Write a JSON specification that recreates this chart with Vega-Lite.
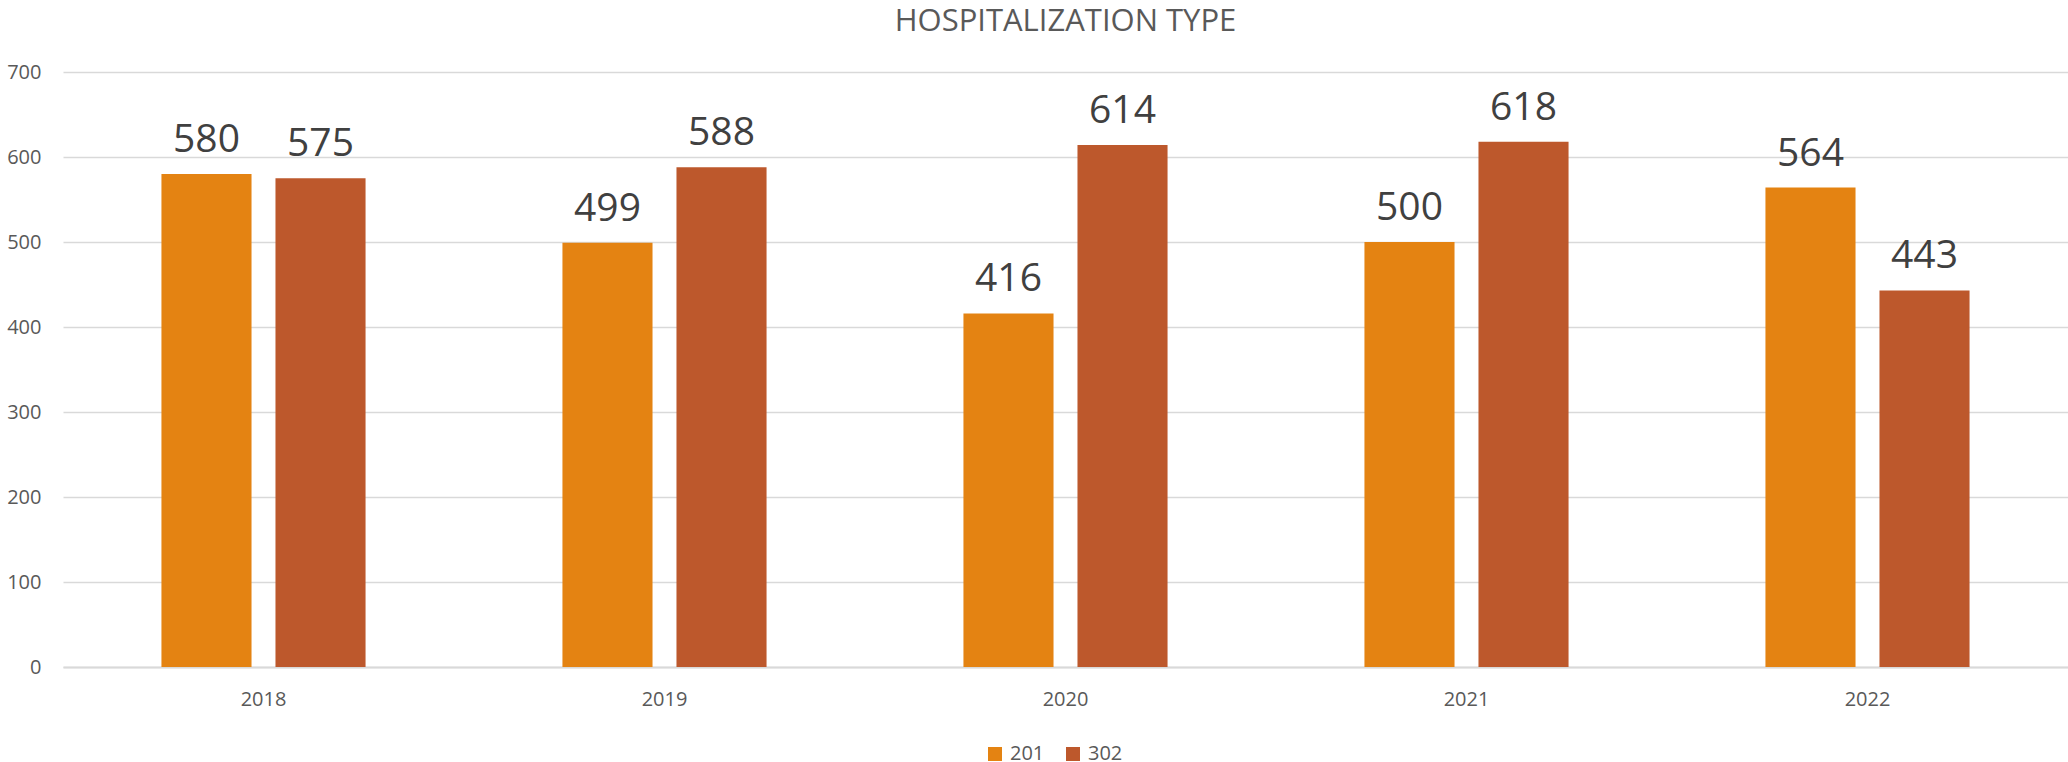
{
  "$schema": "https://vega.github.io/schema/vega-lite/v6.json",
  "width": 2005,
  "height": 595,
  "autosize": {"type": "none"},
  "padding": {"left": 63, "top": 72, "right": 0, "bottom": 95},
  "background": "white",
  "config": {
    "font": "Open Sans",
    "view": {"stroke": null},
    "axis": {"labelFont": "Open Sans", "labelColor": "#595959", "labelFontSize": 20}
  },
  "title": {
    "text": "HOSPITALIZATION TYPE",
    "fontSize": 31,
    "fontWeight": "normal",
    "color": "#595959",
    "anchor": "middle",
    "frame": "group",
    "baseline": "bottom",
    "offset": -7
  },
  "data": {
    "values": [
      {"year": "2018", "type": "201", "count": 580},
      {"year": "2018", "type": "302", "count": 575},
      {"year": "2019", "type": "201", "count": 499},
      {"year": "2019", "type": "302", "count": 588},
      {"year": "2020", "type": "201", "count": 416},
      {"year": "2020", "type": "302", "count": 614},
      {"year": "2021", "type": "201", "count": 500},
      {"year": "2021", "type": "302", "count": 618},
      {"year": "2022", "type": "201", "count": 564},
      {"year": "2022", "type": "302", "count": 443}
    ]
  },
  "encoding": {
    "x": {
      "field": "year",
      "type": "nominal",
      "scale": {"paddingInner": 0.491, "paddingOuter": 0.2455},
      "axis": {
        "title": null,
        "labelAngle": 0,
        "ticks": false,
        "domain": true,
        "domainColor": "#d9d9d9",
        "domainWidth": 2,
        "labelPadding": 22,
        "grid": false
      }
    },
    "xOffset": {
      "field": "type",
      "type": "nominal",
      "scale": {"paddingInner": 0.21, "paddingOuter": 0}
    },
    "y": {
      "field": "count",
      "type": "quantitative",
      "scale": {"domain": [0, 700], "nice": false},
      "axis": {
        "title": null,
        "values": [0, 100, 200, 300, 400, 500, 600, 700],
        "domain": false,
        "grid": true,
        "gridColor": "#d9d9d9",
        "gridWidth": 1.5,
        "ticks": false,
        "labelPadding": 22
      }
    }
  },
  "layer": [
    {
      "mark": {"type": "bar"},
      "encoding": {
        "color": {
          "field": "type",
          "type": "nominal",
          "scale": {"domain": ["201", "302"], "range": ["#E48312", "#BD582C"]},
          "legend": {
            "title": null,
            "orient": "none",
            "direction": "horizontal",
            "legendX": 922,
            "legendY": 672,
            "symbolType": "square",
            "symbolSize": 196,
            "symbolStrokeWidth": 0,
            "labelFontSize": 20,
            "labelColor": "#595959",
            "labelFont": "Open Sans",
            "labelOffset": 5,
            "columnPadding": 18
          }
        }
      }
    },
    {
      "mark": {
        "type": "text",
        "baseline": "alphabetic",
        "dy": -22,
        "fontSize": 39,
        "color": "#404040"
      },
      "encoding": {
        "text": {"field": "count", "type": "quantitative"}
      }
    }
  ]
}
